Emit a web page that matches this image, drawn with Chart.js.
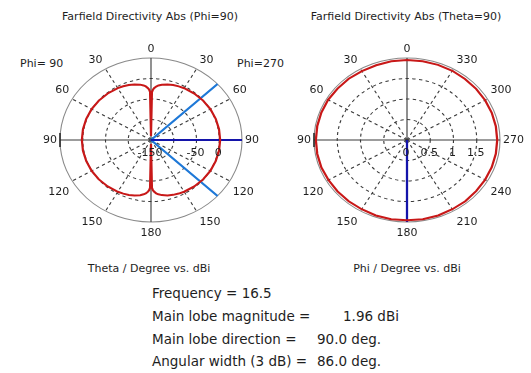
<!DOCTYPE html>
<html>
<head>
<meta charset="utf-8">
<script src="https://cdn.jsdelivr.net/npm/chart.js@4"></script>
<style>
  body { margin: 0; background: #fff; }
  #wrap { position: relative; width: 531px; height: 373px; overflow: hidden;
          font-family: "DejaVu Sans", sans-serif; color: #1e1e1e; }
  .t { position: absolute; white-space: pre; font-size: 11px; line-height: 1; transform: translate(-50%, -50%); }
  .l { position: absolute; white-space: pre; font-size: 11px; line-height: 1; transform: translateY(-50%); }
  .big { font-size: 13.5px; }
  canvas { position: absolute; top: 0; }
</style>
</head>
<body>
<div id="wrap">
  <div class="t" style="left:150px;top:16px">Farfield Directivity Abs (Phi=90)</div>
  <div class="t" style="left:406px;top:16px">Farfield Directivity Abs (Theta=90)</div>
  <div class="l" style="left:20px;top:63px">Phi= 90</div>
  <div class="l" style="left:237px;top:63px">Phi=270</div>

  <canvas id="cutPhi" width="266" height="250" style="left:0"></canvas>
  <canvas id="cutTheta" width="265" height="250" style="left:266px"></canvas>

  <div class="t" style="left:149px;top:268px">Theta / Degree vs. dBi</div>
  <div class="t" style="left:407px;top:268px">Phi / Degree vs. dBi</div>

  <div class="l big" style="left:152px;top:294px">Frequency = 16.5</div>
  <div class="l big" style="left:152px;top:317px">Main lobe magnitude =</div>
  <div class="l big" style="left:343px;top:317px">1.96 dBi</div>
  <div class="l big" style="left:152px;top:340px">Main lobe direction =</div>
  <div class="l big" style="left:317px;top:340px">90.0 deg.</div>
  <div class="l big" style="left:152px;top:362px">Angular width (3 dB) =</div>
  <div class="l big" style="left:317px;top:362px">86.0 deg.</div>
</div>

<script>
// ---- left plot: Phi=90 / Phi=270 cut (theta in deg -> dBi) ----
const cutTheta    = [0, 1, 2, 3, 5, 7, 10, 15, 20, 25, 30, 40, 50, 60, 70, 80, 90,
                     100, 110, 120, 130, 140, 150, 155, 160, 165, 170, 173, 175, 177, 178, 179, 180];
const phi270Dbi   = [-140, -33, -27, -23.5, -19, -16, -13, -9.8, -7.4, -5.6, -4.1, -2, -0.5, 0.7, 1.4, 1.8, 1.96,
                     1.8, 1.3, 0.6, -0.5, -2.1, -4.3, -5.8, -7.6, -10, -13.5, -16.6, -19.5, -24, -27.5, -33.5, -140];
const phi90Dbi    = [-140, -32.8, -26.8, -23.3, -18.8, -15.9, -12.9, -9.7, -7.3, -5.5, -4, -1.9, -0.4, 0.7, 1.4, 1.8, 1.95,
                     1.8, 1.3, 0.6, -0.4, -2, -4.2, -5.7, -7.5, -9.9, -13.4, -16.5, -19.3, -23.8, -27.3, -33.3, -140];
const phiRange    = [-150, 50];
const phiTicks    = [-150, -50, 0];
const mainLobeTheta  = 90;
const beamEdgesTheta = [47, 133];

// ---- right plot: Theta=90 cut (phi in deg -> dBi) ----
const azPhi = [0, 10, 20, 30, 40, 50, 60, 70, 80, 90, 100, 110, 120, 130, 140, 150, 160, 170,
               180, 190, 200, 210, 220, 230, 240, 250, 260, 270, 280, 290, 300, 310, 320, 330, 340, 350];
const azDbi = [1.95, 1.95, 1.94, 1.94, 1.95, 1.95, 1.96, 1.96, 1.96, 1.96, 1.96, 1.96, 1.95, 1.95, 1.95, 1.95, 1.96, 1.96,
               1.96, 1.96, 1.96, 1.95, 1.95, 1.94, 1.94, 1.94, 1.94, 1.94, 1.94, 1.94, 1.94, 1.94, 1.94, 1.95, 1.95, 1.95];
const azRange = [0, 2];
const azTicks = [0, 0.5, 1, 1.5];
const mainLobePhi = 180;

const RED = '#c81818', DARKBLUE = '#1414aa', LIGHTBLUE = '#1e78d7';
const GRID = '#3a3a3a', RIM = '#8a8a8a';

// one label per degree, going clockwise from the top
const degrees = Array.from({ length: 360 }, (_, i) => i);
const emptyRing = () => new Array(360).fill(null);

function spokes(list, lo, hi) {
  const d = emptyRing();
  list.forEach(deg => { d[(deg + 359) % 360] = lo; d[deg] = hi; });
  return d;
}

// left: right half is phi=270 (theta clockwise), left half is phi=90
const leftPattern = emptyRing();
cutTheta.forEach((t, k) => { leftPattern[t] = phi270Dbi[k]; });
cutTheta.forEach((t, k) => { leftPattern[(360 - t) % 360] = phi90Dbi[k]; });

// right: phi runs counter-clockwise
const rightPattern = emptyRing();
azPhi.forEach((p, k) => { rightPattern[(360 - p) % 360] = azDbi[k]; });

// stretches grid + data into an ellipse, then writes the labels unstretched
const polarDecor = {
  id: 'polarDecor',
  beforeDraw(chart, args, o) {
    const r = chart.scales.r, ctx = chart.ctx;
    ctx.save();
    ctx.translate(r.xCenter, r.yCenter);
    ctx.scale(o.sx, 1);
    ctx.translate(-r.xCenter, -r.yCenter);
  },
  afterDatasetsDraw(chart) {
    chart.ctx.restore();
  },
  afterDraw(chart, args, o) {
    const r = chart.scales.r, ctx = chart.ctx;
    const R = r.drawingArea, rx = R * o.sx;
    ctx.save();
    ctx.font = '11px "DejaVu Sans"';
    ctx.fillStyle = '#1e1e1e';
    ctx.textAlign = 'center';
    ctx.textBaseline = 'middle';

    for (let i = 0; i < 360; i += 30) {
      const a = i * Math.PI / 180, s = Math.sin(a), c = Math.cos(a);
      const text = String(o.angleText(i));
      const w = ctx.measureText(text).width;
      let x = r.xCenter + rx * s, y = r.yCenter - R * c;
      if (Math.abs(s) > 0.1) x += Math.sign(s) * (w / 2 + 3);
      if (Math.abs(c) > 0.1) y += c > 0 ? -9.5 : 10.5;
      ctx.fillText(text, x, y + 0.5);
    }

    o.ticks.forEach(v => {
      const x = r.xCenter + r.getDistanceFromCenterForValue(v) * o.sx - 1;
      ctx.fillText(String(v), x, r.yCenter + 13);
    });

    // little mark where the horizontal axis meets the rim on the left
    ctx.strokeStyle = '#222';
    ctx.lineWidth = 1.5;
    ctx.beginPath();
    ctx.moveTo(r.xCenter - rx, r.yCenter - 7);
    ctx.lineTo(r.xCenter - rx, r.yCenter + 7);
    ctx.stroke();
    ctx.restore();
  }
};

function polarChart(id, range, step, datasets, decor, padding) {
  const [min, max] = range;
  return new Chart(document.getElementById(id), {
    type: 'radar',
    data: { labels: degrees, datasets },
    plugins: [polarDecor],
    options: {
      responsive: false,
      animation: false,
      layout: { padding },
      elements: { point: { radius: 0, hoverRadius: 0 } },
      plugins: { legend: { display: false }, tooltip: { enabled: false }, polarDecor: decor },
      scales: {
        r: {
          min, max,
          ticks: { display: false, stepSize: step },
          pointLabels: { display: false },
          grid: { circular: true, lineWidth: 1, color: c => (c.tick && c.tick.value === max ? RIM : GRID) },
          border: { dash: c => (c.tick && c.tick.value === max ? [] : [3, 3]) },
          angleLines: {
            color: GRID,
            lineWidth: c => (c.index % 30 === 0 ? 1 : 0),
            borderDash: c => (c.index % 90 === 0 ? [] : [3, 3])
          }
        }
      }
    }
  });
}

const line = (data, color, spanGaps) => ({
  data, borderColor: color, borderWidth: 2, fill: false, spanGaps, clip: false, pointRadius: 0
});

polarChart('cutPhi', phiRange, 50, [
  line(leftPattern, RED, true),
  line(spokes([mainLobeTheta], phiRange[0], phiRange[1]), DARKBLUE, false),
  line(spokes(beamEdgesTheta, phiRange[0], phiRange[1]), LIGHTBLUE, false)
], {
  sx: 91 / 82,
  ticks: phiTicks,
  angleText: i => (i <= 180 ? i : 360 - i)
}, { left: 69, top: 58, right: 33, bottom: 28 });

polarChart('cutTheta', azRange, 0.5, [
  line(rightPattern, RED, true),
  line(spokes([mainLobePhi], azRange[0], azRange[1]), DARKBLUE, false)
], {
  sx: 93 / 82,
  ticks: azTicks,
  angleText: i => (360 - i) % 360
}, { left: 59, top: 58, right: 42, bottom: 28 });
</script>
</body>
</html>
